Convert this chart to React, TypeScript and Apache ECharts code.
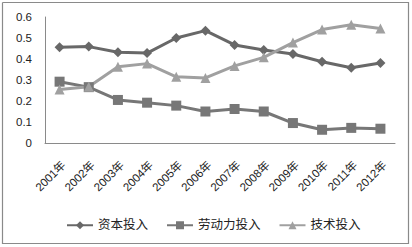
import React, { useEffect, useRef } from "react";
import * as echarts from "echarts";

const years = ["2001年", "2002年", "2003年", "2004年", "2005年", "2006年", "2007年", "2008年", "2009年", "2010年", "2011年", "2012年"];
const capital = [0.456, 0.459, 0.432, 0.428, 0.5, 0.535, 0.467, 0.443, 0.424, 0.387, 0.358, 0.381];
const labor = [0.292, 0.266, 0.205, 0.192, 0.178, 0.15, 0.162, 0.15, 0.095, 0.063, 0.072, 0.068];
const tech = [0.255, 0.268, 0.363, 0.378, 0.315, 0.31, 0.367, 0.408, 0.478, 0.54, 0.563, 0.545];
const seriesNames = ["资本投入", "劳动力投入", "技术投入"];

const FONT = "'Liberation Sans', 'Noto Sans CJK SC', sans-serif";

export default function App() {
  const ref = useRef<HTMLDivElement>(null);
  useEffect(() => {
    const chart = echarts.init(ref.current!, null, { renderer: "svg" });
    const mk = (name: string, data: number[], color: string, symbol: string, size: number) => ({
      name,
      type: "line",
      data,
      symbol,
      symbolSize: size,
      showSymbol: true,
      lineStyle: { color, width: 3 },
      itemStyle: { color },
    });
    chart.setOption({
      animation: false,
      backgroundColor: "#ffffff",
      textStyle: { fontFamily: FONT },
      grid: { left: 45, right: 17, top: 17, bottom: 104, containLabel: false },
      graphic: {
        elements: [
          {
            type: "polyline",
            z: 100,
            silent: true,
            shape: {
              points: [
                [2.5, 2.5],
                [408.5, 2.5],
                [408.5, 243.5],
                [2.5, 243.5],
                [2.5, 2.5],
              ],
            },
            style: { fill: null, stroke: "#8a8a8a", lineWidth: 1.2 },
          },
        ],
      },
      legend: {
        left: 61,
        top: 214,
        itemWidth: 26,
        itemHeight: 10,
        itemGap: 18,
        textStyle: { fontSize: 12.5, color: "#222", fontFamily: FONT },
        data: seriesNames,
      },
      xAxis: {
        type: "category",
        data: years,
        boundaryGap: true,
        axisLine: { lineStyle: { color: "#8a8a8a", width: 1 } },
        axisTick: { show: false },
        axisLabel: {
          rotate: 45,
          fontSize: 11.5,
          color: "#222",
          margin: 16,
          interval: 0,
          align: "right",
          verticalAlign: "top",
          fontFamily: FONT,
        },
      },
      yAxis: {
        type: "value",
        min: 0,
        max: 0.6,
        interval: 0.1,
        splitLine: { show: false },
        axisLine: { show: true, lineStyle: { color: "#8a8a8a", width: 1 } },
        axisTick: { show: false },
        axisLabel: {
          fontSize: 11.5,
          color: "#222",
          margin: 13,
          fontFamily: FONT,
          formatter: (v: number) => (v === 0 ? "0" : v.toFixed(1)),
        },
      },
      series: [
        mk(seriesNames[0], capital, "#686868", "diamond", 10),
        mk(seriesNames[1], labor, "#777777", "rect", 10),
        mk(seriesNames[2], tech, "#a0a0a0", "triangle", 10),
      ],
    });
    return () => chart.dispose();
  }, []);
  return (
    <div
      ref={ref}
      style={{ position: "fixed", left: 0, top: 0, width: 412, height: 247 }}
    />
  );
}
